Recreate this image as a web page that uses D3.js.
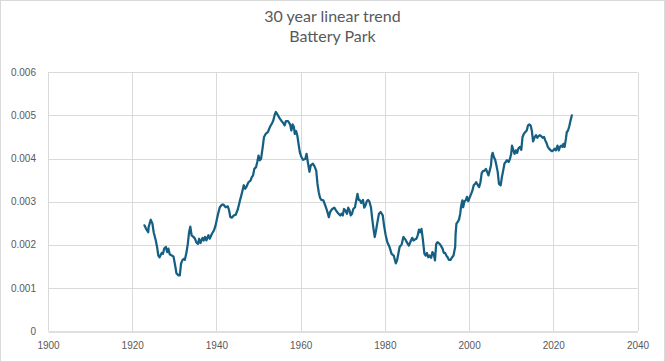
<!DOCTYPE html>
<html>
<head>
<meta charset="utf-8">
<script src="https://cdn.jsdelivr.net/npm/d3@7"></script>
<style>
  body { margin: 0; background: #fff; }
  svg { display: block; }
</style>
</head>
<body>
<svg width="665" height="362"></svg>
<script>
// title lines
const titleLines = ["30 year linear trend", "Battery Park"];

// axis ticks
const xTicks = [1900, 1920, 1940, 1960, 1980, 2000, 2020, 2040];
const yTicks = [0, 0.001, 0.002, 0.003, 0.004, 0.005, 0.006];

// series (year, trend value)
const years = [
  1922.9, 1923.3, 1923.8, 1923.9, 1924.4, 1924.8, 1925.1, 1925.6, 1925.9, 1926.2,
  1926.5, 1927.0, 1927.3, 1927.6, 1928.0, 1928.3, 1928.6, 1928.9, 1929.4, 1929.8,
  1930.2, 1930.5, 1931.0, 1931.3, 1931.6, 1931.9, 1932.2, 1932.5, 1932.9, 1933.2,
  1933.5, 1933.8, 1934.1, 1934.6, 1934.9, 1935.2, 1935.6, 1935.9, 1936.2, 1936.7,
  1937.0, 1937.3, 1937.6, 1938.1, 1938.4, 1938.9, 1939.4, 1939.8, 1940.3, 1940.8,
  1941.3, 1941.7, 1942.2, 1942.7, 1943.0, 1943.3, 1943.7, 1944.1, 1944.6, 1945.1,
  1945.6, 1945.9, 1946.2, 1946.5, 1946.8, 1947.1, 1947.6, 1948.1, 1948.4, 1948.7,
  1949.0, 1949.4, 1949.7, 1950.0, 1950.3, 1950.6, 1951.0, 1951.3, 1951.7, 1952.2,
  1952.7, 1953.2, 1953.5, 1953.8, 1954.1, 1954.4, 1954.9, 1955.4, 1955.9, 1956.2,
  1956.5, 1957.0, 1957.3,
  1957.5, 1957.8, 1958.1, 1958.4, 1958.6, 1958.9, 1959.2, 1959.5, 1959.8, 1960.2,
  1960.6, 1961.1, 1961.4, 1961.7, 1962.1, 1962.4, 1962.9, 1963.3, 1963.7, 1964.0,
  1964.3, 1964.6, 1964.9, 1965.4, 1965.7, 1966.0, 1966.3, 1966.7, 1967.0, 1967.5,
  1968.0, 1968.4, 1968.9, 1969.4, 1969.7, 1970.0, 1970.3, 1970.6, 1971.0, 1971.3,
  1971.6, 1971.9, 1972.2, 1972.5, 1972.9, 1973.2, 1973.5, 1973.8, 1974.1, 1974.4,
  1974.8, 1975.1, 1975.4, 1975.7, 1976.0, 1976.3, 1976.7, 1977.0, 1977.3, 1977.6,
  1977.9, 1978.3, 1978.6, 1979.0, 1979.5, 1979.8, 1980.2, 1980.6, 1981.1, 1981.6,
  1982.1, 1982.6, 1982.9, 1983.2, 1983.5, 1984.0, 1984.4, 1984.9, 1985.2, 1985.7,
  1986.2, 1986.5, 1986.8, 1987.1, 1987.5, 1987.8, 1988.1, 1988.4, 1988.7, 1989.0,
  1989.4, 1989.7, 1990.0, 1990.3, 1990.6, 1991.0, 1991.3, 1991.6, 1991.9,
  1992.2, 1992.5, 1993.0, 1993.3, 1993.7, 1994.0, 1994.3, 1994.6, 1994.9, 1995.2,
  1995.6, 1995.9, 1996.3, 1996.7, 1996.8, 1997.0, 1997.3, 1997.6, 1997.9, 1998.1,
  1998.4, 1998.6, 1998.9, 1999.2, 1999.5, 1999.8, 2000.2, 2000.5, 2000.8, 2001.1,
  2001.4, 2001.7, 2002.1, 2002.4, 2002.7, 2003.0, 2003.3, 2003.7, 2004.0, 2004.3,
  2004.6, 2004.9, 2005.2, 2005.4, 2005.6, 2005.9, 2006.2, 2006.5, 2006.8, 2007.1,
  2007.5, 2007.8, 2008.1, 2008.4, 2008.7, 2009.0, 2009.4, 2009.7, 2010.0, 2010.2,
  2010.5, 2010.8, 2011.1, 2011.4, 2011.7, 2012.1, 2012.4, 2012.7, 2013.0, 2013.3,
  2013.7, 2014.0, 2014.3, 2014.6, 2014.9, 2015.2, 2015.6, 2015.9, 2016.2, 2016.5,
  2016.8, 2017.1, 2017.5, 2017.8, 2018.1, 2018.4, 2018.7, 2019.0, 2019.4, 2019.7,
  2020.0, 2020.3, 2020.6, 2021.0, 2021.3, 2021.6, 2021.9, 2022.2, 2022.4, 2022.7,
  2023.0, 2023.2, 2023.5, 2023.8, 2024.1, 2024.4
];

const trend = [
  0.00245, 0.00237, 0.00229, 0.00241, 0.00258, 0.00249, 0.00229, 0.00210, 0.00195, 0.00175,
  0.00171, 0.00181, 0.00179, 0.00191, 0.00195, 0.00183, 0.00191, 0.00178, 0.00175, 0.00173,
  0.00152, 0.00134, 0.00129, 0.00129, 0.00156, 0.00164, 0.00167, 0.00165, 0.00183, 0.00202,
  0.00229, 0.00242, 0.00222, 0.00218, 0.00214, 0.00206, 0.00202, 0.00214, 0.00204, 0.00216,
  0.00210, 0.00218, 0.00210, 0.00222, 0.00214, 0.00225, 0.00233, 0.00245, 0.00268, 0.00287,
  0.00293, 0.00293, 0.00287, 0.00289, 0.00280, 0.00264, 0.00263, 0.00268, 0.00270, 0.00283,
  0.00303, 0.00314, 0.00326, 0.00338, 0.00330, 0.00334, 0.00345, 0.00349, 0.00357, 0.00361,
  0.00376, 0.00380, 0.00392, 0.00407, 0.00396, 0.00399, 0.00427, 0.00450, 0.00457, 0.00461,
  0.00473, 0.00482, 0.00488, 0.00500, 0.00508, 0.00504, 0.00495, 0.00488, 0.00482, 0.00477,
  0.00487, 0.00487, 0.00482,
  0.00479, 0.00465, 0.00479, 0.00473, 0.00457, 0.00464, 0.00454, 0.00434, 0.00415, 0.00403,
  0.00397, 0.00399, 0.00411, 0.00392, 0.00369, 0.00384, 0.00388, 0.00382, 0.00372, 0.00341,
  0.00322, 0.00309, 0.00304, 0.00303, 0.00295, 0.00287, 0.00278, 0.00264, 0.00276, 0.00283,
  0.00286, 0.00280, 0.00273, 0.00268, 0.00272, 0.00268, 0.00283, 0.00280, 0.00272, 0.00286,
  0.00280, 0.00268, 0.00272, 0.00283, 0.00287, 0.00303, 0.00318, 0.00304, 0.00303, 0.00297,
  0.00304, 0.00286, 0.00291, 0.00301, 0.00304, 0.00301, 0.00287, 0.00260, 0.00237, 0.00218,
  0.00233, 0.00256, 0.00272, 0.00276, 0.00268, 0.00245, 0.00222, 0.00206, 0.00195, 0.00179,
  0.00175, 0.00157, 0.00164, 0.00179, 0.00195, 0.00201, 0.00218, 0.00212, 0.00206, 0.00198,
  0.00210, 0.00216, 0.00210, 0.00212, 0.00214, 0.00222, 0.00235, 0.00229, 0.00237, 0.00214,
  0.00179, 0.00175, 0.00181, 0.00171, 0.00175, 0.00170, 0.00183, 0.00179, 0.00164,
  0.00202, 0.00206, 0.00202, 0.00198, 0.00191, 0.00181, 0.00181, 0.00175, 0.00171, 0.00165,
  0.00165, 0.00170, 0.00175, 0.00195, 0.00225, 0.00249, 0.00253, 0.00258, 0.00272, 0.00289,
  0.00303, 0.00287, 0.00301, 0.00303, 0.00311, 0.00301, 0.00311, 0.00318, 0.00326, 0.00338,
  0.00341, 0.00345, 0.00338, 0.00334, 0.00345, 0.00366, 0.00371, 0.00372, 0.00376, 0.00369,
  0.00361, 0.00372, 0.00384, 0.00407, 0.00413, 0.00403, 0.00397, 0.00384, 0.00369, 0.00341,
  0.00338, 0.00357, 0.00372, 0.00388, 0.00392, 0.00396, 0.00392, 0.00399, 0.00411, 0.00430,
  0.00420, 0.00411, 0.00419, 0.00413, 0.00423, 0.00427, 0.00420, 0.00450, 0.00457, 0.00461,
  0.00465, 0.00477, 0.00479, 0.00477, 0.00465, 0.00440, 0.00450, 0.00454, 0.00448, 0.00452,
  0.00454, 0.00452, 0.00448, 0.00450, 0.00442, 0.00436, 0.00427, 0.00423, 0.00419, 0.00417,
  0.00419, 0.00423, 0.00419, 0.00430, 0.00419, 0.00427, 0.00430, 0.00427, 0.00434, 0.00427,
  0.00446, 0.00461, 0.00465, 0.00475, 0.00488, 0.00500
];

const width = 665, height = 362;
const margin = { left: 48, right: 27.5, top: 72.3, bottom: 31 };

const svg = d3.select("svg");

// chart border
svg.append("rect")
  .attr("x", 0.5).attr("y", 0.5)
  .attr("width", width - 1).attr("height", height - 1)
  .attr("fill", "#fff")
  .attr("stroke", "#d9d9d9");

const x = d3.scaleLinear()
  .domain([1900, 2040])
  .range([margin.left, width - margin.right]);

const y = d3.scaleLinear()
  .domain([0, 0.006])
  .range([height - margin.bottom, margin.top]);

// gridlines
const grid = svg.append("g");
grid.selectAll("line.h")
  .data(yTicks.slice(1))
  .enter()
  .append("line")
  .attr("x1", x(1900)).attr("x2", x(2040))
  .attr("y1", (d) => Math.round(y(d)) + 0.5)
  .attr("y2", (d) => Math.round(y(d)) + 0.5)
  .attr("stroke", "#d9d9d9");

grid.selectAll("line.v")
  .data(xTicks)
  .enter()
  .append("line")
  .attr("x1", (d) => Math.round(x(d)) + 0.5)
  .attr("x2", (d) => Math.round(x(d)) + 0.5)
  .attr("y1", y(0.006)).attr("y2", y(0))
  .attr("stroke", "#d9d9d9");

// x axis
const xAxis = svg.append("g")
  .attr("transform", `translate(0,${Math.round(y(0)) + 0.5})`)
  .call(d3.axisBottom(x).tickValues(xTicks).tickFormat(d3.format("d")).tickSize(0).tickPadding(10));
xAxis.select(".domain").attr("stroke", "#bfbfbf");

// y axis
const yAxis = svg.append("g")
  .attr("transform", `translate(${margin.left - 12},0)`)
  .call(d3.axisLeft(y).tickValues(yTicks).tickFormat((d) => d === 0 ? "0" : d3.format(".3f")(d)).tickSize(0).tickPadding(0));
yAxis.select(".domain").remove();

svg.selectAll(".tick text")
  .attr("fill", "#595959")
  .attr("font-family", "'Liberation Sans', Arial, sans-serif")
  .attr("font-size", 10);

// the series
const line = d3.line()
  .x((d, i) => x(years[i]))
  .y((d) => y(d));

svg.append("path")
  .datum(trend)
  .attr("d", line)
  .attr("fill", "none")
  .attr("stroke", "#156082")
  .attr("stroke-width", 2.25)
  .attr("stroke-linejoin", "round")
  .attr("stroke-linecap", "round");

// title
svg.append("g")
  .selectAll("text")
  .data(titleLines)
  .enter()
  .append("text")
  .attr("x", width / 2)
  .attr("y", (d, i) => 22 + i * 20)
  .attr("text-anchor", "middle")
  .attr("fill", "#595959")
  .attr("font-family", "Lato, sans-serif")
  .attr("font-size", 16)
  .text((d) => d);
</script>
</body>
</html>
